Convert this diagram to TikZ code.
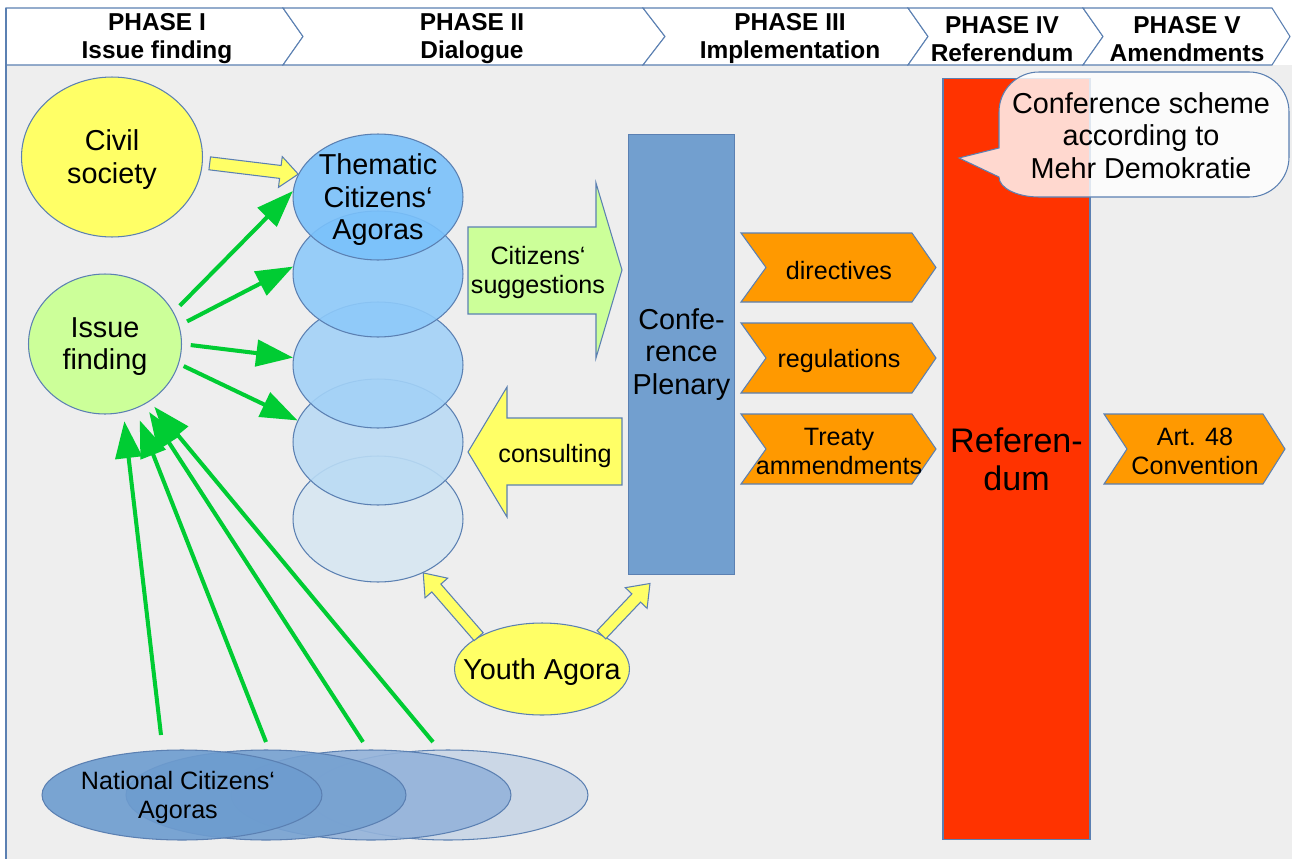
\documentclass[tikz,border=0pt]{standalone}
\usepackage{fontspec}
\setmainfont{Liberation Sans}
\usetikzlibrary{calc,arrows.meta,shapes.geometric}

\definecolor{bggray}{HTML}{EEEEEE}
\definecolor{edgeblue}{HTML}{5B80B2}
\definecolor{civilyellow}{HTML}{FFFF66}
\definecolor{issuegreen}{HTML}{CCFF99}
\definecolor{arrowgreen}{HTML}{00CC33}
\definecolor{planorange}{HTML}{FF9900}
\definecolor{refred}{HTML}{FF3300}
\definecolor{plenblue}{HTML}{729FCF}
\definecolor{agoraA}{HTML}{7AC1FB}
\definecolor{agoraB}{HTML}{8ECAFA}
\definecolor{agoraC}{HTML}{A3D2F7}
\definecolor{agoraD}{HTML}{BADBF4}
\definecolor{agoraE}{HTML}{D7E7F2}
\definecolor{natA}{HTML}{6D9CCF}
\definecolor{natB}{HTML}{76A1D1}
\definecolor{natC}{HTML}{94B3DA}
\definecolor{natD}{HTML}{C8D5E6}

\tikzset{
	edgeline/.style={draw=edgeblue, line width=0.6pt},
	hdtxt/.style={font=\fontsize{13.9}{15.9}\selectfont\bfseries, align=center, yshift=-1.5pt},
	bigfont/.style={font=\fontsize{16.4}{18.6}\selectfont, align=center},
	bigtxt/.style={bigfont, yshift=-1.5pt},
	smalltxt/.style={font=\fontsize{14.3}{16.4}\selectfont, align=center, yshift=-1.5pt},
	blob/.style={ellipse, edgeline, inner sep=0pt},
	agora/.style={blob, minimum width=3.4cm, minimum height=2.52cm, fill opacity=0.9},
	natagora/.style={blob, minimum width=5.6cm, minimum height=1.8cm, fill opacity=0.9},
	garrow/.style={draw=arrowgreen, line width=2.3pt, -{Triangle[length=21pt,width=15pt]}},
	yarrow/.style={edgeline, fill=civilyellow},
}

\def\chevron[#1](#2:#3:#4:#5:#6:#7){\draw[#1] (#2,#6) -- (#4,#6) -- ({#4+#5},{(#6+#7)/2}) -- (#4,#7) -- (#2,#7) -- ({#2+#3},{(#6+#7)/2}) -- cycle;}
\def\blockarrow[#1](#2)(#3)(#4:#5:#6){%
	\coordinate (ba-s) at (#2);
	\coordinate (ba-t) at (#3);
	\coordinate (ba-b) at ($(ba-t)!#5!(ba-s)$);
	\draw[#1] ($(ba-s)!#4!90:(ba-t)$) -- ($(ba-b)!#4!-90:(ba-s)$) -- ($(ba-b)!#6!-90:(ba-s)$) -- (ba-t) -- ($(ba-b)!#6!90:(ba-s)$) -- ($(ba-b)!#4!90:(ba-s)$) -- ($(ba-s)!#4!-90:(ba-t)$) -- cycle;}

\begin{document}
\begin{tikzpicture}[x=0.02cm, y=-0.02cm]
			%%%%% START %%%%%
			\useasboundingbox (0,0) rectangle (1292,859);
			\fill[white] (0,0) rectangle (1292,859);
			\fill[bggray] (6,65) rectangle (1292,859);
			
			% phases
			\chevron[edgeline, fill=white](6:0:283:20:8:65)
			\chevron[edgeline, fill=white](283:20:643:22:8:65)
			\chevron[edgeline, fill=white](643:22:908:20:8:65)
			\chevron[edgeline, fill=white](908:20:1083:20:8:65)
			\chevron[edgeline, fill=white](1083:20:1272:18:8:65)
			\draw[edgeline] (6,8) -- (6,859);
			\node[hdtxt] (ph1) at (157,36) {PHASE I\\Issue finding};
			\node[hdtxt] (ph2) at (472,36) {PHASE II\\Dialogue};
			\node[hdtxt] (ph3) at (790,36) {PHASE III\\Implementation};
			\node[hdtxt] (ph4) at (1002,36) {PHASE IV\\Referendum};
			\node[hdtxt] (ph5) at (1187,36) {PHASE V\\Amendments};
			
			% phase I
			\node[blob, fill=civilyellow, minimum width=3.62cm, minimum height=3.2cm] (civil) at (112,157) {};
			\node[bigtxt] at (civil) {Civil\\society};
			\node[blob, fill=issuegreen, minimum width=3.06cm, minimum height=2.8cm] (issue) at (105,344) {};
			\node[bigtxt] at (issue) {Issue\\finding};
			
			\node[natagora, fill=natD] (nat4) at (448,795) {};
			\node[natagora, fill=natC] (nat3) at (371,795) {};
			\node[natagora, fill=natB] (nat2) at (266,795) {};
			\node[natagora, fill=natA] (nat1) at (182,795) {};
			\node[smalltxt] at (178,795) {National Citizens‘\\Agoras};
			
			% phase II
			\node[agora, fill=agoraE] (ta5) at (378,519) {};
			\node[agora, fill=agoraD] (ta4) at (378,442) {};
			\node[agora, fill=agoraC] (ta3) at (378,365) {};
			\node[agora, fill=agoraB] (ta2) at (378,274) {};
			\node[agora, fill=agoraA] (ta1) at (378,197) {};
			\node[bigtxt] at (ta1) {Thematic\\Citizens‘\\Agoras};
			
			\coordinate (cs-out) at ($(civil.-4)+(7,0)$);
			\blockarrow[yarrow](cs-out)(ta1.164)(0.13cm:0.36cm:0.31cm)
			
			\draw[garrow, shorten <=5pt] (issue.25) -- (ta1.176);
			\draw[garrow, shorten <=5pt] (issue.14) -- (ta2.175);
			\draw[garrow, shorten <=5pt] (issue.0) -- (ta3.175);
			\draw[garrow, shorten <=3pt] (issue.-15) -- (ta4.165);
			
			\coordinate (n1) at (161,735);
			\coordinate (n2) at (266,742);
			\coordinate (n3) at (363,742);
			\coordinate (n4) at (433,742);
			\draw[garrow, shorten >=5pt] (n1) -- (issue.-75);
			\draw[garrow, shorten >=7pt] (n2) -- (issue.-65);
			\draw[garrow, shorten >=5pt] (n3) -- (issue.-57);
			\draw[garrow, shorten >=4pt] (n4) -- (issue.-52);
			
			\draw[edgeline, fill=issuegreen] (468,227) -- (596,227) -- (596,183) -- (622,270) -- (596,358) -- (596,314) -- (468,314) -- cycle;
			\node[smalltxt] (sugg) at (538,270) {Citizens‘\\suggestions};
			\draw[edgeline, fill=civilyellow] (622,418) -- (507,418) -- (507,387) -- (468,452) -- (507,517) -- (507,485) -- (622,485) -- cycle;
			\node[smalltxt] (cons) at (555,453) {consulting};
			
			% phase III
			\node[edgeline, fill=plenblue, minimum width=2.12cm, minimum height=8.82cm, inner sep=0pt, bigfont] (plenary) at (681.5,354.5) {Confe-\\rence\\Plenary};
			
			\node[blob, fill=civilyellow, minimum width=3.5cm, minimum height=1.84cm] (youth) at (542,669) {};
			\node[bigtxt] at (youth) {Youth Agora};
			\coordinate (pl-in) at ($(plenary.south west)+(22,8)$);
			\blockarrow[yarrow](youth.153)(ta5.-50)(0.12cm:0.4cm:0.3cm)
			\blockarrow[yarrow](youth.30)(pl-in)(0.12cm:0.4cm:0.3cm)
			
			\chevron[edgeline, fill=planorange](741:25:912:24:233:302)
			\node[smalltxt] (dir) at (839,268) {directives};
			\chevron[edgeline, fill=planorange](741:25:912:24:323:393)
			\node[smalltxt] (reg) at (839,358) {regulations};
			\chevron[edgeline, fill=planorange](741:25:912:24:414:484)
			\node[smalltxt] (treaty) at (839,449) {Treaty\\ammendments};
			
			% phase IV and V
			\node[edgeline, fill=refred, minimum width=2.94cm, minimum height=15.24cm, inner sep=0pt, font=\fontsize{19.4}{21.5}\selectfont, align=center] (referendum) at (1016.5,459) {Referen-\\dum};
			
			\chevron[edgeline, fill=planorange](1104:23:1263:22:414:484)
			\node[smalltxt] (art) at (1195,449) {Art. 48\\Convention};
			
			\draw[edgeline, fill=white, fill opacity=0.81] (999,148) -- (999,112) arc[start angle=180, end angle=270, x radius=40, y radius=40] -- (1249,72) arc[start angle=270, end angle=360, x radius=40, y radius=40] -- (1289,157) arc[start angle=0, end angle=90, x radius=40, y radius=40] -- (1039,197) arc[start angle=90, end angle=180, x radius=40, y radius=20] -- (959,158) -- cycle;
			\node[bigtxt] (note) at (1141,133) {Conference scheme\\according to\\Mehr Demokratie};
			
			%%%%% END %%%%%
\end{tikzpicture}
\end{document}
